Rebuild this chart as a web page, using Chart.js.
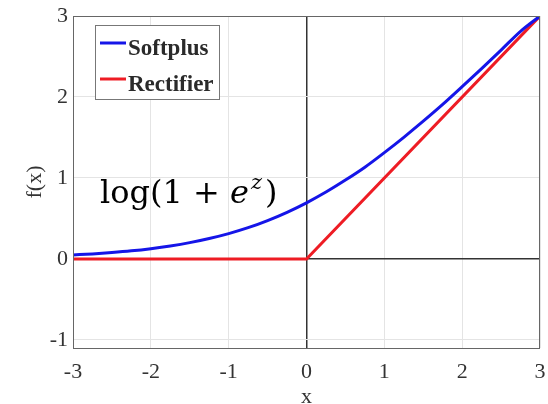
<!DOCTYPE html>
<html>
<head>
<meta charset="utf-8">
<script src="https://cdn.jsdelivr.net/npm/chart.js@4"></script>
<style>
    html, body { margin: 0; padding: 0; background: #fff; }
    #wrap { width: 548px; height: 404px; }
</style>
</head>
<body>
<div id="wrap"><canvas id="reluChart"></canvas></div>
<script>
// values
const xValues = [-3, -2.75, -2.5, -2.25, -2, -1.75, -1.5, -1.25, -1, -0.75, -0.5, -0.25,
    0, 0.25, 0.5, 0.75, 1, 1.25, 1.5, 1.75, 2, 2.25, 2.5, 2.75, 3];
const softplusValues = [0.049, 0.062, 0.079, 0.100, 0.127, 0.160, 0.201, 0.252, 0.313, 0.386, 0.474, 0.576,
    0.693, 0.826, 0.974, 1.133, 1.313, 1.502, 1.701, 1.908, 2.127, 2.351, 2.579, 2.811, 3.0];
const rectifierX = [-3, 0, 3];
const rectifierValues = [0, 0, 3];
const xTicks = [-3, -2, -1, 0, 1, 2, 3];
const yTicks = [-1, 0, 1, 2, 3];

const serif = "'Liberation Serif', 'DejaVu Serif', serif";
const mathSerif = "'DejaVu Serif', serif";

// box around plot, legend and formula label
const decorPlugin = {
    id: 'decor',
    afterDatasetsDraw(chart) {
        const { ctx, chartArea: a } = chart;
        ctx.save();
        ctx.strokeStyle = '#666';
        ctx.lineWidth = 1;
        ctx.strokeRect(a.left + 0.5, a.top + 0.5, a.right - a.left - 1, a.bottom - a.top);

        // legend
        const lx = 95, ly = 25, lw = 124, lh = 74;
        ctx.fillStyle = '#fff';
        ctx.fillRect(lx, ly, lw, lh);
        ctx.strokeStyle = '#777';
        ctx.strokeRect(lx + 0.5, ly + 0.5, lw, lh);
        ctx.font = 'bold 23px ' + serif;
        ctx.textBaseline = 'alphabetic';
        chart.data.datasets.forEach((ds, i) => {
            const y = 43 + i * 36;
            ctx.strokeStyle = ds.borderColor;
            ctx.lineWidth = 3;
            ctx.beginPath();
            ctx.moveTo(100, y);
            ctx.lineTo(126, y);
            ctx.stroke();
            ctx.fillStyle = '#2a2a2a';
            ctx.fillText(ds.label, 128, y + 12);
        });

        // formula
        let x = 100;
        const base = 203;
        ctx.fillStyle = '#000';
        ctx.font = '32px ' + mathSerif;
        ctx.fillText('log(1 + ', x, base);
        x += ctx.measureText('log(1 + ').width;
        ctx.font = 'italic 32px ' + mathSerif;
        ctx.fillText('e', x, base);
        x += ctx.measureText('e').width + 2;
        ctx.font = 'italic 21px ' + mathSerif;
        ctx.fillText('z', x, base - 14);
        x += ctx.measureText('z').width + 3;
        ctx.font = '32px ' + mathSerif;
        ctx.fillText(')', x, base);
        ctx.restore();
    }
};

const ctx = document.getElementById('reluChart').getContext('2d');
new Chart(ctx, {
    type: 'line',
    data: {
        datasets: [
            {
                label: 'Softplus',
                data: xValues.map((x, i) => ({ x: x, y: softplusValues[i] })),
                borderColor: '#1515e8',
                borderWidth: 3,
                pointRadius: 0,
                cubicInterpolationMode: 'monotone',
                fill: false
            },
            {
                label: 'Rectifier',
                data: rectifierX.map((x, i) => ({ x: x, y: rectifierValues[i] })),
                borderColor: '#ee1c24',
                borderWidth: 3,
                pointRadius: 0,
                tension: 0,
                fill: false
            }
        ]
    },
    options: {
        responsive: true,
        maintainAspectRatio: false,
        animation: false,
        layout: { padding: { top: 16, right: 8, left: 0, bottom: 0 } },
        plugins: {
            legend: { display: false },
            tooltip: { enabled: false }
        },
        scales: {
            x: {
                type: 'linear',
                min: -3,
                max: 3,
                afterBuildTicks: s => { s.ticks = xTicks.map(v => ({ value: v })); },
                afterFit: s => { s.height = 56; s.paddingLeft = 0; s.paddingRight = 0; },
                grid: {
                    drawTicks: false,
                    color: c => c.tick && c.tick.value === 0 ? '#333' : '#e4e4e4',
                    lineWidth: c => c.tick && c.tick.value === 0 ? 1.5 : 1
                },
                border: { display: false },
                ticks: { color: '#333', padding: 11, font: { family: serif, size: 22 } },
                title: {
                    display: true,
                    text: 'x',
                    color: '#333',
                    padding: { top: 0, bottom: -6 },
                    font: { family: serif, size: 22 }
                }
            },
            y: {
                min: -1.1,
                max: 3,
                afterBuildTicks: s => { s.ticks = yTicks.map(v => ({ value: v })); },
                afterFit: s => { s.width = 73; s.paddingTop = 0; s.paddingBottom = 0; },
                grid: {
                    drawTicks: false,
                    color: c => c.tick && c.tick.value === 0 ? '#333' : '#e4e4e4',
                    lineWidth: c => c.tick && c.tick.value === 0 ? 1.5 : 1
                },
                border: { display: false },
                ticks: { color: '#333', padding: 5, font: { family: serif, size: 22 } },
                title: {
                    display: true,
                    text: 'f(x)',
                    color: '#333',
                    padding: { top: 22, bottom: 0 },
                    font: { family: serif, size: 22 }
                }
            }
        }
    },
    plugins: [decorPlugin]
});
</script>
</body>
</html>
